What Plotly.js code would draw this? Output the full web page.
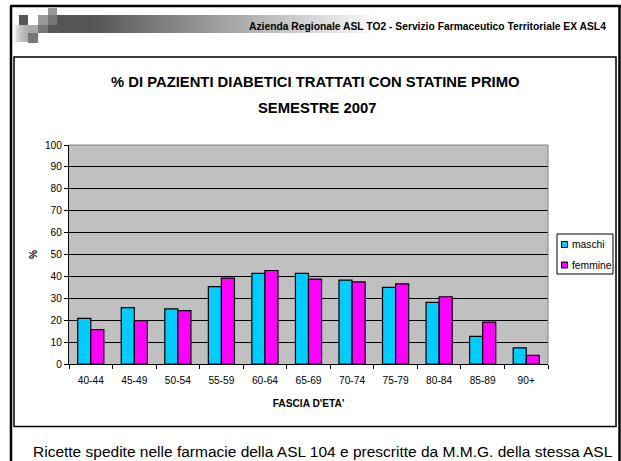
<!DOCTYPE html>
<html>
<head>
<meta charset="utf-8">
<script src="https://cdn.plot.ly/plotly-3.0.1.min.js"></script>
<style>
html, body { margin: 0; padding: 0; background: #ffffff; }
#chart { width: 621px; height: 461px; }
</style>
</head>
<body>
<div id="chart"></div>
<script>
// ---- data ----
var ageGroups = ['40-44', '45-49', '50-54', '55-59', '60-64', '65-69', '70-74', '75-79', '80-84', '85-89', '90+'];
var seriesNames = ['maschi', 'femmine'];
var maschi = [20.8, 25.7, 25.2, 35.3, 41.4, 41.4, 38.3, 35.0, 28.1, 12.6, 7.4];
var femmine = [15.7, 19.8, 24.4, 39.2, 42.7, 38.8, 37.5, 36.6, 30.7, 19.1, 4.0];
var yTicks = [0, 10, 20, 30, 40, 50, 60, 70, 80, 90, 100];
var titleLines = ['% DI PAZIENTI DIABETICI TRATTATI CON STATINE PRIMO', 'SEMESTRE 2007'];
var xTitle = "FASCIA D'ETA'";
var yTitle = '%';
var headerText = 'Azienda Regionale ASL TO2 - Servizio Farmaceutico Territoriale EX ASL4';
var footerText = 'Ricette spedite nelle farmacie della ASL 104 e prescritte da M.M.G. della stessa ASL';

// ---- layout geometry ----
var W = 621, H = 461;
var L = 69, R = 548, T = 145, B = 364;
function px(x) { return (x - L) / (R - L); }
function py(y) { return (B - y) / (B - T); }

var ARIAL = "'Liberation Sans', Arial, sans-serif";
var colors = ['#00CCFF', '#FF00FF'];

var traces = [maschi, femmine].map(function (vals, i) {
  return {
    type: 'bar',
    name: seriesNames[i],
    x: ageGroups,
    y: vals,
    marker: { color: colors[i], line: { color: '#000000', width: 1.2 } },
    showlegend: false,
    hoverinfo: 'x+y+name'
  };
});

var shapes = [];
function rect(x0, y0, x1, y1, fill, line, lw, layer) {
  shapes.push({
    type: 'rect', xref: 'paper', yref: 'paper',
    x0: px(x0), x1: px(x1), y0: py(y0), y1: py(y1),
    fillcolor: fill || 'rgba(0,0,0,0)',
    line: { color: line || 'rgba(0,0,0,0)', width: lw || 0 },
    layer: layer || 'above'
  });
}
function seg(x0, y0, x1, y1, color, lw) {
  shapes.push({
    type: 'line', xref: 'paper', yref: 'paper',
    x0: px(x0), x1: px(x1), y0: py(y0), y1: py(y1),
    line: { color: color, width: lw }, layer: 'above'
  });
}

// header decoration: gradient bar
var x0g = 57, x1dark = 90, xEnd = 380, step = 4;
for (var x = x0g; x < xEnd; x += step) {
  var c;
  if (x < x1dark) c = 85; else c = Math.round(85 + 170 * (x - x1dark) / (xEnd - x1dark));
  c = Math.min(255, c);
  var hex = 'rgb(' + c + ',' + c + ',' + c + ')';
  rect(x, 15, x + step + 0.5, 33, hex, null, 0, 'below');
}
// left fade strip
var fades = [[14, 240], [16, 220], [18, 205], [20, 195], [22, 185], [24, 180], [26, 175]];
fades.forEach(function (f) {
  var h = 'rgb(' + f[1] + ',' + f[1] + ',' + f[1] + ')';
  rect(f[0], 25, f[0] + 2.2, 42, h, null, 0, 'below');
});
// squares
rect(19, 15, 28, 25, '#555555', null, 0, 'below');
rect(28, 25, 38, 33, '#a8a8a8', null, 0, 'below');
rect(28, 33, 38, 43, '#777777', null, 0, 'below');
rect(38, 15, 48, 25, '#999999', null, 0, 'below');
rect(38, 25, 48, 33, '#777777', null, 0, 'below');
rect(48, 8, 57, 15, '#999999', null, 0, 'below');
rect(48, 15, 57, 25, '#777777', null, 0, 'below');
rect(48, 25, 57, 33, '#555555', null, 0, 'below');

// outer slide frame
seg(11, 6, 11, 470, '#000000', 2.5);
seg(10, 6, 621, 6, '#000000', 2.5);
seg(619.5, 6, 619.5, 470, '#000000', 2.5);
// chart object frame
rect(14, 57, 616, 426.5, null, '#000000', 1.5, 'below');
// plot area gray border (top, right)
seg(69, 145, 548, 145, '#808080', 1);
seg(548, 145, 548, 364, '#808080', 1);

// manual legend
rect(557, 234, 613, 274, '#ffffff', '#000000', 1, 'above');
var legendY = [244.5, 265];
seriesNames.forEach(function (n, i) {
  rect(561.5, legendY[i] - 3, 567.5, legendY[i] + 3, colors[i], '#000000', 1, 'above');
});

var annotations = [];
function txt(text, x, y, size, bold, xanchor) {
  annotations.push({
    text: bold ? '<b>' + text + '</b>' : text,
    xref: 'paper', yref: 'paper', x: px(x), y: py(y),
    xanchor: xanchor || 'center', yanchor: 'middle',
    showarrow: false,
    font: { family: ARIAL, size: size, color: '#000000' }
  });
}
txt(headerText, 608, 27, 10.3, true, 'right');
txt(titleLines[0], 315, 82, 14.8, true);
txt(titleLines[1], 316.5, 107.5, 14.8, true);
txt(footerText, 322.5, 451, 15.5, false);
seriesNames.forEach(function (n, i) {
  txt(n, 569.5, legendY[i], 10.3, false, 'left');
});

var layout = {
  width: W, height: H,
  margin: { l: L, r: W - R, t: T, b: H - B, pad: 0 },
  paper_bgcolor: '#ffffff',
  plot_bgcolor: '#C0C0C0',
  barmode: 'group',
  bargap: 0.4,
  bargroupgap: 0,
  showlegend: false,
  font: { family: ARIAL, size: 10, color: '#000000' },
  xaxis: {
    type: 'category',
    tickson: 'boundaries',
    ticks: 'outside', ticklen: 4, tickwidth: 1, tickcolor: '#000000',
    showline: true, linecolor: '#000000', linewidth: 1,
    showgrid: false, zeroline: false,
    ticklabelstandoff: 7,
    tickfont: { family: ARIAL, size: 10.2 },
    title: { text: '<b>' + xTitle + '</b>', font: { family: ARIAL, size: 10.2 }, standoff: 14 },
    fixedrange: true
  },
  yaxis: {
    range: [0, 100],
    tickmode: 'array', tickvals: yTicks, ticktext: yTicks.map(String),
    ticks: 'outside', ticklen: 4, tickwidth: 1, tickcolor: '#000000',
    showline: true, linecolor: '#000000', linewidth: 1,
    showgrid: true, gridcolor: '#000000', gridwidth: 1,
    zeroline: false,
    tickfont: { family: ARIAL, size: 10.2 },
    title: { text: '<b>' + yTitle + '</b>', font: { family: ARIAL, size: 10.2 }, standoff: 5 },
    fixedrange: true
  },
  shapes: shapes,
  annotations: annotations
};

Plotly.newPlot('chart', traces, layout, { displayModeBar: false, staticPlot: true });
</script>
</body>
</html>
